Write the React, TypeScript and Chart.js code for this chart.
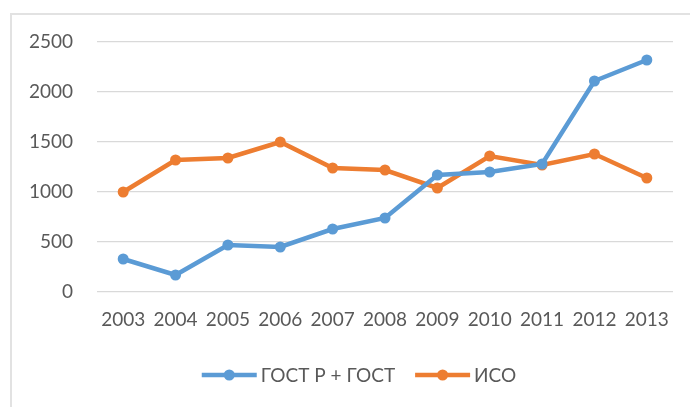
import React, { useEffect, useRef } from "react";
import { Chart, registerables } from "chart.js";

Chart.register(...registerables);

const years = ["2003", "2004", "2005", "2006", "2007", "2008", "2009", "2010", "2011", "2012", "2013"];
const gostValues = [330, 170, 470, 450, 630, 740, 1170, 1200, 1280, 2110, 2320];
const isoValues = [1000, 1320, 1340, 1500, 1240, 1220, 1040, 1360, 1270, 1380, 1140];
const seriesLabels = ["ГОСТ Р + ГОСТ", "ИСО"];
const yMin = 0;
const yMax = 2500;
const yStep = 500;

const FONT = "Lato, Roboto, 'Noto Sans', sans-serif";
const TEXT_COLOR = "#595959";
const BLUE = "#5B9BD5";
const ORANGE = "#ED7D31";

const lineLegend = {
  id: "lineLegend",
  afterDraw(chart: any) {
    const ctx = chart.ctx as CanvasRenderingContext2D;
    const y = 375;
    const centerX = 359;
    const lineW = 55;
    const gapText = 4;
    const gapItems = 20;
    ctx.save();
    ctx.font = `19px ${FONT}`;
    const items = chart.data.datasets.map((ds: any) => ({
      label: ds.label as string,
      color: ds.borderColor as string,
      w: ctx.measureText(ds.label).width,
    }));
    const total =
      items.reduce((s: number, it: any) => s + lineW + gapText + it.w, 0) + gapItems * (items.length - 1);
    let x = centerX - total / 2;
    for (const it of items) {
      ctx.strokeStyle = it.color;
      ctx.lineWidth = 4.5;
      ctx.beginPath();
      ctx.moveTo(x, y);
      ctx.lineTo(x + lineW, y);
      ctx.stroke();
      ctx.fillStyle = it.color;
      ctx.beginPath();
      ctx.arc(x + lineW / 2, y, 5.5, 0, Math.PI * 2);
      ctx.fill();
      ctx.fillStyle = TEXT_COLOR;
      ctx.textAlign = "left";
      ctx.textBaseline = "middle";
      ctx.fillText(it.label, x + lineW + gapText, y + 1);
      x += lineW + gapText + it.w + gapItems;
    }
    ctx.restore();
  },
};

export default function App() {
  const canvasRef = useRef<HTMLCanvasElement | null>(null);

  useEffect(() => {
    const canvas = canvasRef.current;
    if (!canvas) return;
    const chart = new Chart(canvas, {
      type: "line",
      data: {
        labels: years,
        datasets: [
          {
            label: seriesLabels[0],
            data: gostValues,
            borderColor: BLUE,
            backgroundColor: BLUE,
            pointBackgroundColor: BLUE,
            pointBorderColor: BLUE,
            borderWidth: 4.5,
            pointRadius: 5.5,
            pointBorderWidth: 0,
            tension: 0,
          },
          {
            label: seriesLabels[1],
            data: isoValues,
            borderColor: ORANGE,
            backgroundColor: ORANGE,
            pointBackgroundColor: ORANGE,
            pointBorderColor: ORANGE,
            borderWidth: 4.5,
            pointRadius: 5.5,
            pointBorderWidth: 0,
            tension: 0,
          },
        ],
      },
      options: {
        responsive: false,
        animation: false,
        events: [],
        layout: { padding: { left: 0, right: 17, top: 42, bottom: 65 } },
        plugins: {
          legend: { display: false },
          tooltip: { enabled: false },
        },
        scales: {
          x: {
            offset: true,
            grid: { display: false, drawTicks: false },
            border: { display: false },
            ticks: {
              color: TEXT_COLOR,
              font: { family: FONT, size: 19 },
              padding: 16,
              maxRotation: 0,
              autoSkip: false,
            },
            afterFit: (s: any) => {
              s.height = 50;
            },
          },
          y: {
            min: yMin,
            max: yMax,
            grid: { color: "#d9d9d9", lineWidth: 1.2, drawTicks: false },
            border: { display: false },
            ticks: {
              stepSize: yStep,
              color: TEXT_COLOR,
              font: { family: FONT, size: 19 },
              padding: 24,
              callback: (v: any) => String(v),
            },
            afterFit: (s: any) => {
              s.width = 97;
            },
          },
        },
      },
      plugins: [lineLegend],
    });
    return () => chart.destroy();
  }, []);

  return (
    <div style={{ position: "fixed", left: 0, top: 0, width: 690, height: 407, background: "#fff", overflow: "hidden" }}>
      <div
        style={{
          position: "absolute",
          left: 10,
          top: 13,
          width: 690,
          height: 400,
          borderTop: "2px solid #e2e2e2",
          borderLeft: "2px solid #e2e2e2",
        }}
      />
      <canvas ref={canvasRef} width={690} height={407} style={{ position: "absolute", left: 0, top: 0 }} />
    </div>
  );
}
